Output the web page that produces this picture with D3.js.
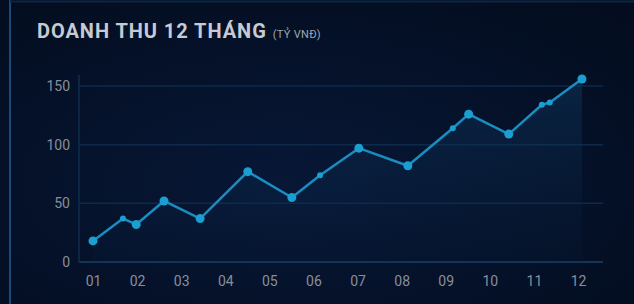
<!DOCTYPE html>
<html>
<head>
<meta charset="utf-8">
<script src="https://cdn.jsdelivr.net/npm/d3@7"></script>
<style>
  html, body { margin: 0; padding: 0; background: #061429; }
  #chart { width: 634px; height: 304px; }
</style>
</head>
<body>
<div id="chart"></div>
<script>
// months shown on the x axis
const months = ['01', '02', '03', '04', '05', '06', '07', '08', '09', '10', '11', '12']
const yTicks = [0, 50, 100, 150]

// readings: position along the month axis, revenue (ty VND), main reading or not
const pointMonth = [1, 1.68, 1.98, 2.61, 3.43, 4.51, 5.51, 6.15, 7.03, 8.14, 9.16, 9.52, 10.43, 11.18, 11.36, 12.09]
const pointValue = [18, 37, 32, 52, 37, 77, 55, 74, 97, 82, 114, 126, 109, 134, 136, 156]
const pointMain  = [true, false, true, true, true, true, true, false, true, true, false, true, true, false, false, true]

const width = 634, height = 304
const plotLeft = 79, plotRight = 603, plotTop = 75, plotBottom = 262

let svg = d3.select('#chart').append('svg')
  .attr('width', width)
  .attr('height', height)

let defs = svg.append('defs')
let bg = defs.append('radialGradient').attr('id', 'bg')
  .attr('cx', '45%').attr('cy', '60%').attr('r', '75%')
bg.append('stop').attr('offset', '0%').attr('stop-color', '#071736')
bg.append('stop').attr('offset', '100%').attr('stop-color', '#030d1f')

let areaGrad = defs.append('linearGradient').attr('id', 'areaFill')
  .attr('x1', 0).attr('y1', 0).attr('x2', 0).attr('y2', 1)
areaGrad.append('stop').attr('offset', '0%').attr('stop-color', '#0f3d66').attr('stop-opacity', 0.45)
areaGrad.append('stop').attr('offset', '100%').attr('stop-color', '#0a2444').attr('stop-opacity', 0.1)

svg.append('rect').attr('width', width).attr('height', height).attr('fill', 'url(#bg)')

// panel frame
svg.append('line')
  .attr('x1', 10).attr('x2', 10).attr('y1', 0).attr('y2', height)
  .attr('stroke', '#1b4a78').attr('stroke-width', 2)
svg.append('line')
  .attr('x1', 10).attr('x2', width).attr('y1', 1.5).attr('y2', 1.5)
  .attr('stroke', '#0c2645').attr('stroke-width', 2)

// title
let title = svg.append('text')
  .attr('x', 37).attr('y', 38)
  .style('font-family', 'Roboto, sans-serif')
  .style('font-weight', 'bold')
  .style('font-size', '20px')
  .style('letter-spacing', '0.95px')
  .attr('fill', '#c6cbd3')
  .text('DOANH THU 12 THÁNG')
title.append('tspan')
  .attr('dx', 6)
  .style('font-size', '11px')
  .style('font-weight', 'normal')
  .style('letter-spacing', '0.3px')
  .attr('fill', '#a0a7b2')
  .text('(TỶ VNĐ)')

let x = d3.scaleLinear().domain([1, 12]).range([93, 578])
let y = d3.scaleLinear().domain([0, 150]).range([plotBottom, 86])

// grid lines
svg.append('g')
  .selectAll('line')
  .data(yTicks)
  .enter().append('line')
  .attr('x1', plotLeft).attr('x2', plotRight)
  .attr('y1', d => y(d)).attr('y2', d => y(d))
  .attr('stroke', d => d === 0 ? '#113657' : '#0d2a4a')
  .attr('stroke-width', d => d === 0 ? 2 : 1.5)

svg.append('line')
  .attr('x1', plotLeft).attr('x2', plotLeft).attr('y1', plotTop).attr('y2', plotBottom)
  .attr('stroke', '#0e2c4e').attr('stroke-width', 1.5)

// y axis labels
let yAxis = svg.append('g')
  .attr('transform', 'translate(' + (plotLeft - 9) + ',0)')
  .call(d3.axisLeft(y).tickValues(yTicks).tickSize(0).tickPadding(0))
yAxis.select('.domain').remove()
yAxis.selectAll('text')
  .style('font-family', 'Roboto, sans-serif')
  .style('font-size', '14px')
  .attr('fill', '#878f9b')

// x axis labels
let xAxis = svg.append('g')
  .attr('transform', 'translate(0,' + (plotBottom + 14) + ')')
  .call(d3.axisBottom(x).tickValues(d3.range(1, 13)).tickFormat((d, i) => months[i]).tickSize(0).tickPadding(0))
xAxis.select('.domain').remove()
xAxis.selectAll('text')
  .style('font-family', 'Roboto, sans-serif')
  .style('font-size', '14px')
  .attr('fill', '#878f9b')

let data = pointMonth.map((m, i) => ({ m: m, v: pointValue[i], main: pointMain[i] }))

let area = d3.area()
  .x(d => x(d.m))
  .y0(y(0))
  .y1(d => y(d.v))
svg.append('path')
  .datum(data)
  .attr('d', area)
  .attr('fill', 'url(#areaFill)')

let line = d3.line()
  .x(d => x(d.m))
  .y(d => y(d.v))
svg.append('path')
  .datum(data)
  .attr('d', line)
  .attr('fill', 'none')
  .attr('stroke', '#1a8cc0')
  .attr('stroke-width', 2.5)
  .attr('stroke-linejoin', 'round')

svg.selectAll('circle.pt')
  .data(data)
  .enter().append('circle')
  .attr('class', 'pt')
  .attr('cx', d => x(d.m))
  .attr('cy', d => y(d.v))
  .attr('r', d => d.main ? 4.5 : 3)
  .attr('fill', '#1b9ed0')
</script>
</body>
</html>
